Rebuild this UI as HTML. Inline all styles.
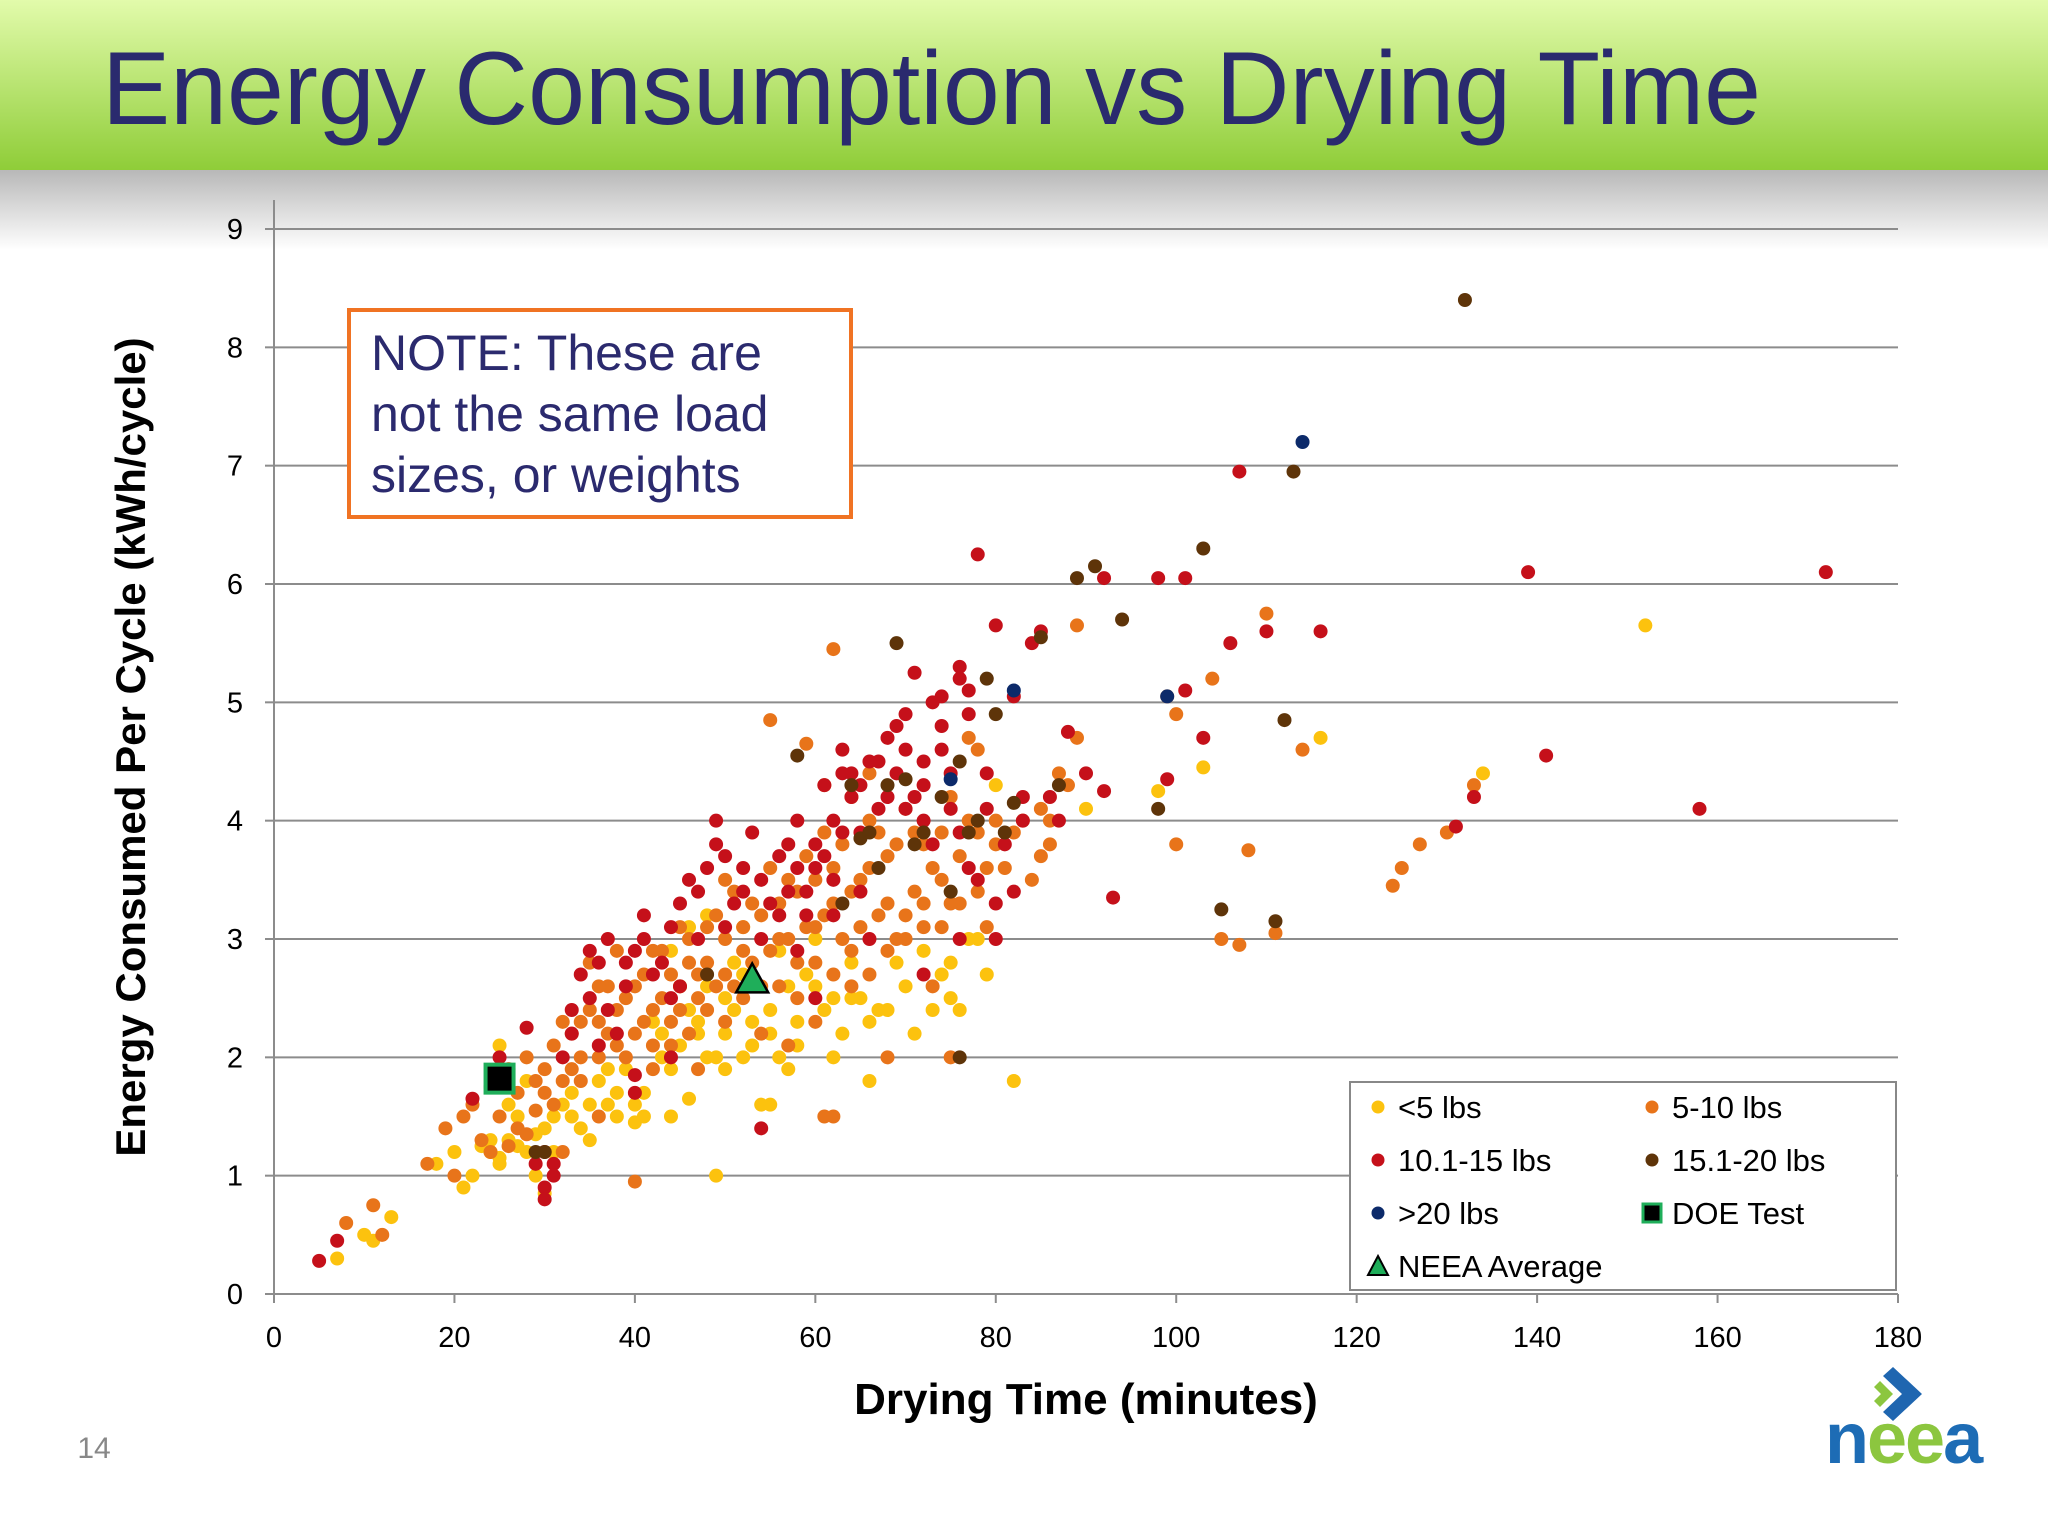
<!DOCTYPE html>
<html><head><meta charset="utf-8"><style>
html,body{margin:0;padding:0;background:#fff}
svg{display:block}
text{font-family:"Liberation Sans","DejaVu Sans",sans-serif}
</style></head><body>
<svg id="chart" width="2048" height="1536" viewBox="0 0 2048 1536" xmlns="http://www.w3.org/2000/svg">
<defs>
<linearGradient id="gband" x1="0" y1="0" x2="0" y2="1"><stop offset="0" stop-color="#e2fbab"/><stop offset="1" stop-color="#8fcd38"/></linearGradient>
<linearGradient id="gshadow" x1="0" y1="0" x2="0" y2="1"><stop offset="0" stop-color="#b8b8b8"/><stop offset="1" stop-color="#ffffff"/></linearGradient>
</defs>
<rect x="0" y="0" width="2048" height="170" fill="url(#gband)"/>
<rect x="0" y="170" width="2048" height="80" fill="url(#gshadow)"/>
<text x="102" y="124" font-size="104" fill="#2a2a6e" textLength="1659" lengthAdjust="spacingAndGlyphs">Energy Consumption vs Drying Time</text>
<g id="grid"></g>
<g id="axes"></g>
<g id="marks"></g>
<text transform="translate(145,747) rotate(-90)" text-anchor="middle" font-size="42" font-weight="bold" fill="#000">Energy Consumed Per Cycle (kWh/cycle)</text>
<text x="1086" y="1414" text-anchor="middle" font-size="44" font-weight="bold" fill="#000">Drying Time (minutes)</text>
<g>
<rect x="349" y="310" width="502" height="207" fill="#fff" stroke="#f07323" stroke-width="4"/>
<text x="371" y="370" font-size="50" fill="#2b2a6e">NOTE: These are</text>
<text x="371" y="431" font-size="50" fill="#2b2a6e">not the same load</text>
<text x="371" y="492" font-size="50" fill="#2b2a6e">sizes, or weights</text>
</g>
<g id="legend">
<rect x="1350" y="1082" width="546" height="208" fill="#fff" stroke="#888" stroke-width="2"/>
</g>
<text x="94" y="1458" text-anchor="middle" font-size="30" fill="#888">14</text>
<g>
<polygon points="1893,1367 1922,1394 1893,1421 1883,1412 1902,1394 1883,1376" fill="#1f66b0"/>
<polygon points="1880,1381 1893,1394 1880,1407 1874,1401 1881,1394 1874,1387" fill="#8cc63f"/>
<text x="1825" y="1463" font-size="72" font-weight="bold" letter-spacing="-2"><tspan fill="#1d6cb5">n</tspan><tspan fill="#8cc63f">ee</tspan><tspan fill="#1d6cb5">a</tspan></text>
</g>
</svg>
<script>
const xTicks=[0,20,40,60,80,100,120,140,160,180];
const yTicks=[0,1,2,3,4,5,6,7,8,9];
const yellowX=[7,10,11,13,18,20,21,22,23,24,25,25,26,27,28,29,30,30,31,32,33,34,35,36,37,38,39,40,40,41,42,43,44,45,46,47,48,49,49,50,50,51,52,53,54,55,55,56,57,58,59,60,62,63,64,65,66,68,70,72,74,75,76,78,79,80,82,90,98,103,116,134,152,26,28,44,46,52,66,71,
24,25,27,29,31,33,35,37,38,41,43,45,47,48,50,51,52,53,55,57,58,60,61,64,67,69,73,75,77,44,46,48,56,62];
const yellowY=[0.3,0.5,0.45,0.65,1.1,1.2,0.9,1.0,1.25,1.3,2.1,1.15,1.3,1.5,1.2,1.0,0.85,1.4,1.2,1.6,1.7,1.4,1.3,1.8,1.6,1.7,1.9,1.45,1.6,1.5,2.3,2.0,1.9,2.1,2.4,2.2,2.6,1.0,2.0,2.5,1.9,2.8,3.1,2.3,1.6,1.6,2.4,2.9,1.9,2.1,2.7,3.0,2.5,2.2,2.8,2.5,1.8,2.4,2.6,2.9,2.7,2.5,2.4,3.0,2.7,4.3,1.8,4.1,4.25,4.45,4.7,4.4,5.65,1.6,1.8,1.5,1.65,2.0,2.3,2.2,
1.2,1.1,1.25,1.35,1.5,1.5,1.6,1.9,1.5,1.7,2.2,2.6,2.3,2.0,2.2,2.4,2.7,2.1,2.2,2.6,2.3,2.6,2.4,2.5,2.4,2.8,2.4,2.8,3.0,2.9,3.1,3.2,2.0,2.0];
const orangeX=[8,11,12,17,19,20,21,22,23,24,26,27,28,29,30,31,32,33,34,35,36,37,38,39,40,40,41,42,43,44,45,46,47,48,49,50,51,52,53,54,55,55,56,57,58,59,60,61,61,62,62,63,64,65,66,67,68,69,70,71,72,73,74,75,76,77,78,79,80,81,82,84,85,86,88,89,89,99,100,100,104,108,105,107,110,111,114,124,125,127,130,133,32,36,42,47,57,62,68,75,35,45,50,
25,27,29,31,33,34,36,37,38,39,41,42,43,44,45,46,47,48,49,50,51,52,53,54,55,56,57,58,59,60,60,61,62,63,64,65,66,67,68,69,70,71,72,73,74,75,76,77,78,79,80,83,85,87,36,38,40,42,44,46,48,50,52,54,56,58,60,62,64,66,68,70,72,74,30,32,34,26,24,28,64,66,59,61,78,86];
const orangeY=[0.6,0.75,0.5,1.1,1.4,1.0,1.5,1.6,1.3,1.75,1.9,1.7,2.0,1.55,1.9,2.1,1.8,2.2,2.0,2.4,2.3,2.6,2.1,2.5,2.2,0.95,2.7,2.4,2.9,2.3,2.6,3.0,2.5,2.8,3.2,2.7,3.4,2.9,3.3,2.6,3.6,4.85,3.0,3.5,2.8,3.7,3.1,3.9,1.5,5.45,3.3,3.8,2.9,3.5,4.0,3.2,3.7,3.0,4.1,3.4,3.8,2.6,3.5,4.2,3.3,4.7,3.9,3.1,4.0,3.6,3.9,3.5,4.1,3.8,4.3,5.65,4.7,5.05,4.9,3.8,5.2,3.75,3.0,2.95,5.75,3.05,4.6,3.45,3.6,3.8,3.9,4.3,1.2,1.5,1.9,1.9,2.1,1.5,2.0,2.0,2.8,3.1,3.5,
1.5,1.4,1.8,1.6,1.9,2.3,2.0,2.2,2.4,2.0,2.3,2.1,2.5,2.7,2.4,2.2,2.7,2.4,2.6,3.0,2.6,3.1,2.8,3.2,2.9,3.3,3.0,3.4,3.1,3.5,2.8,3.2,3.6,3.0,3.4,3.1,3.6,3.9,3.3,3.8,3.2,3.9,3.1,3.6,3.9,3.3,3.7,4.0,3.4,3.6,3.8,4.0,3.7,4.4,2.6,2.9,2.6,2.9,2.1,2.8,3.1,2.3,2.5,2.2,2.6,2.5,2.3,2.7,2.6,2.7,2.9,3.0,3.3,3.1,1.7,2.3,1.8,1.25,1.2,1.35,4.2,4.4,4.65,4.3,4.6,4.0];
const redX=[5,7,22,25,28,29,30,30,31,32,33,34,35,36,37,38,39,40,40,41,42,44,45,46,47,49,49,50,51,52,53,54,54,56,57,58,59,60,61,62,63,64,65,66,67,68,69,70,71,72,73,74,75,76,76,77,78,79,80,81,82,83,84,85,87,88,90,92,92,93,98,99,101,101,103,106,107,110,116,131,133,139,141,158,172,80,82,60,66,72,44,
33,35,37,39,41,43,45,47,48,50,52,54,55,57,58,59,60,61,62,63,64,65,67,68,69,70,71,72,73,74,75,76,77,78,79,80,83,86,74,76,77,36,40,44,56,58,62,65,70,72,63,31,30];
const redY=[0.28,0.45,1.65,2.0,2.25,1.1,0.9,1.2,1.0,2.0,2.4,2.7,2.5,2.8,3.0,2.2,2.6,1.85,2.9,3.2,2.7,3.1,2.6,3.5,3.4,3.8,4.0,3.1,3.3,3.6,3.9,3.0,1.4,3.7,3.4,4.0,3.2,3.8,4.3,3.5,4.6,4.4,3.9,4.5,4.1,4.7,4.4,4.9,5.25,4.3,5.0,4.6,4.1,5.3,3.0,3.6,6.25,4.4,5.65,3.8,5.05,4.2,5.5,5.6,4.0,4.75,4.4,6.05,4.25,3.35,6.05,4.35,6.05,5.1,4.7,5.5,6.95,5.6,5.6,3.95,4.2,6.1,4.55,4.1,6.1,3.0,3.4,2.5,3.0,2.7,2.0,
2.2,2.9,2.4,2.8,3.0,2.8,3.3,3.0,3.6,3.7,3.4,3.5,3.3,3.8,3.6,3.4,3.6,3.7,4.0,3.9,4.2,4.3,4.5,4.2,4.8,4.6,4.2,4.5,3.8,4.8,4.4,3.9,4.9,3.5,4.1,3.3,4.0,4.2,5.05,5.2,5.1,2.1,1.7,2.5,3.2,2.9,3.2,3.4,4.1,4.0,4.4,1.1,0.8];
const brownX=[29,48,58,63,65,67,69,70,72,74,76,76,79,80,81,82,85,87,89,91,94,98,103,105,111,112,113,132,30,66,71,75,77,78,68,64];
const brownY=[1.2,2.7,4.55,3.3,3.85,3.6,5.5,4.35,3.9,4.2,4.5,2.0,5.2,4.9,3.9,4.15,5.55,4.3,6.05,6.15,5.7,4.1,6.3,3.25,3.15,4.85,6.95,8.4,1.2,3.9,3.8,3.4,3.9,4.0,4.3,4.3];
const navyX=[75,82,99,114];
const navyY=[4.35,5.1,5.05,7.2];
const doeX=[25], doeY=[1.82];
const neeaX=[53], neeaY=[2.65];

const NS="http://www.w3.org/2000/svg";
const X0=274,X1=1898,Y0=1294,Y1=229;
function sx(v){return X0+(v-0)/(180-0)*(X1-X0);}
function sy(v){return Y0-(v-0)/(9-0)*(Y0-Y1);}
function mk(tag,attrs,parent){const e=document.createElementNS(NS,tag);for(const k in attrs)e.setAttribute(k,attrs[k]);parent.appendChild(e);return e;}
const grid=document.getElementById('grid'),axes=document.getElementById('axes'),marks=document.getElementById('marks'),legend=document.getElementById('legend');
yTicks.forEach(t=>{
  if(t>0){const l=mk('line',{x1:X0,x2:X1,y1:sy(t),y2:sy(t),stroke:'#8c8c8c','stroke-width':2},grid);
  
  }
  const tk=mk('line',{x1:X0-9,x2:X0,y1:sy(t),y2:sy(t),stroke:'#8c8c8c','stroke-width':2},axes);
  
  
  const tx=mk('text',{x:X0-31,y:sy(t)+10,'text-anchor':'end','font-size':29,fill:'#000'},axes);
  tx.textContent=t;
  
  
});
xTicks.forEach(t=>{
  const tk=mk('line',{x1:sx(t),x2:sx(t),y1:Y0,y2:Y0+9,stroke:'#8c8c8c','stroke-width':2},axes);
  
  
  const tx=mk('text',{x:sx(t),y:Y0+53,'text-anchor':'middle','font-size':29,fill:'#000'},axes);
  tx.textContent=t;
  
  
});
const ya=mk('line',{x1:X0,x2:X0,y1:200,y2:Y0,stroke:'#8c8c8c','stroke-width':2},axes);


const xa=mk('line',{x1:X0,x2:X1,y1:Y0,y2:Y0,stroke:'#8c8c8c','stroke-width':2},axes);


function series(xs,ys,color,name){
  xs.forEach((x,i)=>{
    const c=mk('circle',{cx:sx(x),cy:sy(ys[i]),r:7,fill:color},marks);
    
    
  });
}
series(yellowX,yellowY,'#fcc20e','under-5-lbs');
series(orangeX,orangeY,'#e8741a','5-10-lbs');
series(redX,redY,'#c5101a','10-15-lbs');
series(brownX,brownY,'#5e3409','15-20-lbs');
series(navyX,navyY,'#0c2a6a','over-20-lbs');
doeX.forEach((x,i)=>{
  const r=mk('rect',{x:sx(x)-14,y:sy(doeY[i])-14,width:28,height:28,fill:'#000',stroke:'#1fae5a','stroke-width':4},marks);
  
  
});
neeaX.forEach((x,i)=>{
  const cx=sx(x),cy=sy(neeaY[i]);
  const p=mk('polygon',{points:(cx)+','+(cy-17)+' '+(cx+16)+','+(cy+12)+' '+(cx-16)+','+(cy+12),fill:'#1fae5a',stroke:'#000','stroke-width':2.5},marks);
  
  
});
const legItems=[['<5 lbs','#fcc20e','c',1378,1107],['5-10 lbs','#e8741a','c',1652,1107],['10.1-15 lbs','#c5101a','c',1378,1160],['15.1-20 lbs','#5e3409','c',1652,1160],['>20 lbs','#0c2a6a','c',1378,1213],['DOE Test','#000','s',1652,1213],['NEEA Average','#1fae5a','t',1378,1266]];
legItems.forEach(it=>{
  const g=mk('g',{},legend);
  
  
  const [lab,col,shape,x,y]=it;
  if(shape==='c')mk('circle',{cx:x,cy:y,r:6.5,fill:col},g);
  else if(shape==='s')mk('rect',{x:x-9,y:y-9,width:18,height:18,fill:'#000',stroke:'#1fae5a','stroke-width':3},g);
  else mk('polygon',{points:x+','+(y-10)+' '+(x+10)+','+(y+9)+' '+(x-10)+','+(y+9),fill:'#1fae5a',stroke:'#000','stroke-width':2},g);
  const t=mk('text',{x:x+20,y:y+11,'font-size':31,fill:'#000'},g);
  t.textContent=lab;
});
</script>
</body></html>
